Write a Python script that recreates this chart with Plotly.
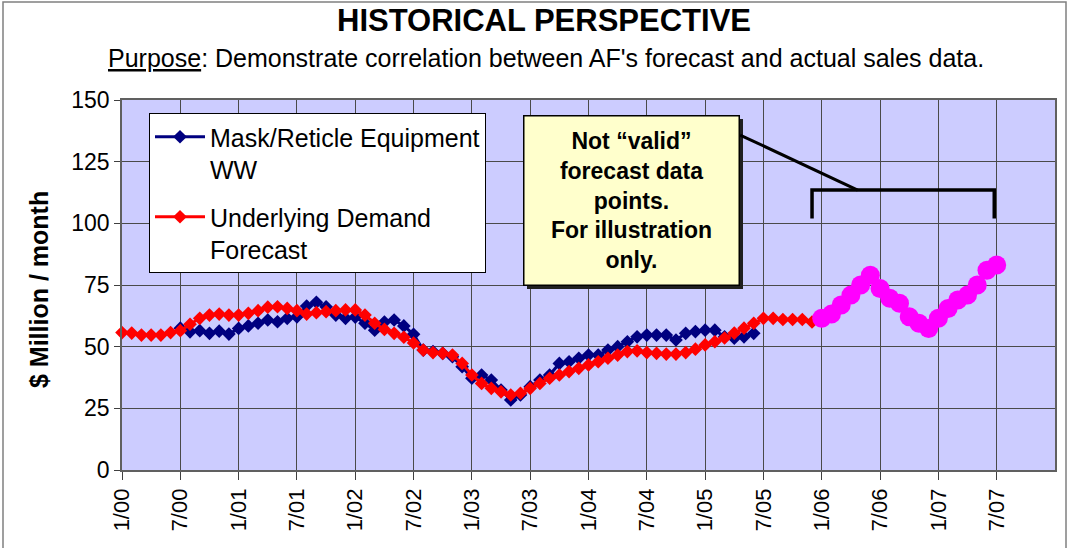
import plotly.graph_objects as go

# ---- data ----
years = ["00", "01", "02", "03", "04", "05", "06", "07"]
months = [f"{m}/{y}" for y in years for m in range(1, 13)]  # category axis labels
tick_labels = [f"{m}/{y}" for y in years for m in (1, 7)]

mask_start = 6  # 7/00
mask_values = [57.5, 56.0, 56.5, 55.4, 56.3, 55.1, 57.4, 58.4, 59.5, 60.8,
               60.1, 61.5, 62.1, 66.5, 68.0, 66.2, 62.8, 61.5, 62.0, 59.5,
               56.7, 60.0, 60.8, 58.4, 55.0, 48.6, 48.0, 47.3, 45.9, 41.9,
               37.2, 38.5, 36.5, 32.4, 28.4, 30.4, 33.8, 36.5, 38.5, 43.2,
               43.9, 45.3, 46.6, 46.6, 48.6, 50.0, 52.0, 54.0, 54.7, 54.7,
               54.7, 52.7, 55.4, 56.1, 56.7, 56.7, 54.0, 53.4, 54.0, 55.4]

demand_start = 0  # 1/00
demand_values = [55.7, 55.5, 54.7, 54.7, 54.7, 55.7, 56.5, 59.1, 61.5, 62.8,
                 63.2, 62.8, 62.8, 63.5, 64.6, 66.0, 66.2, 65.5, 64.6, 63.2,
                 63.8, 64.2, 64.6, 64.9, 64.9, 62.8, 59.5, 57.0, 55.4, 53.8,
                 51.5, 48.6, 47.6, 47.3, 46.6, 43.2, 38.5, 35.1, 33.1, 31.7,
                 30.4, 31.1, 33.1, 35.1, 37.2, 38.5, 39.9, 41.2, 42.6, 43.9,
                 45.3, 46.6, 48.0, 48.3, 47.6, 47.3, 47.0, 47.0, 47.6, 49.0,
                 50.7, 52.0, 53.5, 55.5, 57.5, 59.5, 61.5, 61.5, 61.0, 61.0,
                 61.0, 60.0]

illus_start = 72  # 1/06
illus_values = [61.5, 63.2, 66.9, 70.9, 75.0, 79.0, 73.6, 69.6, 67.6, 62.1,
                59.5, 57.4, 61.5, 65.5, 68.9, 70.9, 75.0, 81.0, 83.1]

# ---- layout geometry (page pixels; body margin removed via post_script) ----
W, H = 1070, 548
L, R, T, B = 122, 1055, 100, 470  # plot area
pw, ph = R - L, B - T


def px(x):
    return (x - L) / pw


def py(y):
    return (B - y) / ph


fig = go.Figure()

fig.add_trace(go.Scatter(
    x=months[mask_start:mask_start + len(mask_values)], y=mask_values,
    mode="lines+markers", name="Mask/Reticle Equipment<br>WW",
    line=dict(color="#000080", width=3),
    marker=dict(symbol="diamond", size=10.5, color="#000080"),
    legendgroup="a", cliponaxis=False))

fig.add_trace(go.Scatter(
    x=months[demand_start:demand_start + len(demand_values)], y=demand_values,
    mode="lines+markers", name="Underlying Demand<br>Forecast",
    line=dict(color="#FF0000", width=3),
    marker=dict(symbol="diamond", size=10.5, color="#FF0000"),
    legendgroup="b", cliponaxis=False))

fig.add_trace(go.Scatter(
    x=months[illus_start:illus_start + len(illus_values)], y=illus_values,
    mode="lines+markers", showlegend=False,
    line=dict(color="#FF00FF", width=3),
    marker=dict(symbol="circle", size=19, color="#FF00FF"),
    cliponaxis=False))

shapes = [
    # outer frame
    dict(type="rect", xref="paper", yref="paper",
         x0=px(3), x1=px(1066), y0=py(560), y1=py(2),
         line=dict(color="#808080", width=1.5), layer="below"),
    # callout box shadow
    dict(type="rect", xref="paper", yref="paper",
         x0=px(527), x1=px(743), y0=py(289), y1=py(119),
         fillcolor="#202020", line=dict(width=0), layer="above"),
    # callout pointer
    dict(type="line", xref="x", yref="y", x0=63.6, y0=135.8, x1=75.7, y1=113.5,
         line=dict(color="black", width=3), layer="above"),
    # bracket
    dict(type="path", xref="x", yref="y",
         path="M 71,102 L 71,113.5 L 89.75,113.5 L 89.75,102",
         line=dict(color="black", width=3.5), layer="above"),
]

annotations = [
    dict(text="<b>HISTORICAL PERSPECTIVE</b>",
         xref="paper", yref="paper", x=px(544), y=py(21), xanchor="center", yanchor="middle",
         showarrow=False, font=dict(size=31, color="black")),
    dict(text="<u>Purpose</u>: Demonstrate correlation between AF's forecast and actual sales data.",
         xref="paper", yref="paper", x=px(546), y=py(58), xanchor="center", yanchor="middle",
         showarrow=False, font=dict(size=25, color="black")),
    dict(text="<b>$ Million / month</b>", textangle=-90,
         xref="paper", yref="paper", x=px(39), y=py(290), xanchor="center", yanchor="middle",
         showarrow=False, font=dict(size=25, color="black")),
    dict(text="<b>Not “valid”<br>forecast data<br>points.<br>For illustration<br>only.</b>",
         xref="paper", yref="paper", x=px(631), y=py(200), xanchor="center", yanchor="middle",
         showarrow=False, font=dict(size=23, color="black"),
         bgcolor="#FFFFCC", bordercolor="black", borderwidth=1.5, borderpad=1,
         width=212, height=166),
]

fig.update_layout(
    width=W, height=H,
    margin=dict(l=L, r=W - R, t=T, b=H - B),
    paper_bgcolor="white", plot_bgcolor="#CCCCFF",
    font=dict(family="Liberation Sans, Arial, sans-serif", color="black"),
    showlegend=True,
    legend=dict(x=px(149), y=py(113), xanchor="left", yanchor="top",
                bgcolor="white", bordercolor="black", borderwidth=1,
                font=dict(size=25), tracegroupgap=12, valign="top",
                traceorder="grouped", itemwidth=50),
    shapes=shapes, annotations=annotations,
    xaxis=dict(type="category", categoryorder="array", categoryarray=months,
               range=[0, 96], tickmode="array", tickvals=tick_labels, ticktext=tick_labels,
               tickangle=-90, tickfont=dict(size=22), ticks="outside", ticklen=8,
               tickcolor="#404040", showgrid=True, gridcolor="#4a4a4a", gridwidth=1,
               showline=True, linecolor="#606060", linewidth=1.5, mirror=True),
    yaxis=dict(range=[0, 150], dtick=25, tickfont=dict(size=23), ticks="outside",
               ticklen=6, tickcolor="#404040", showgrid=True, gridcolor="#4a4a4a",
               gridwidth=1, showline=True, linecolor="#606060", linewidth=1.5,
               mirror=True, zeroline=False),
)

fig.write_html(
    "out.html",
    config={"displayModeBar": False},
    post_script="document.body.style.margin='0';document.body.style.overflow='hidden';",
)
